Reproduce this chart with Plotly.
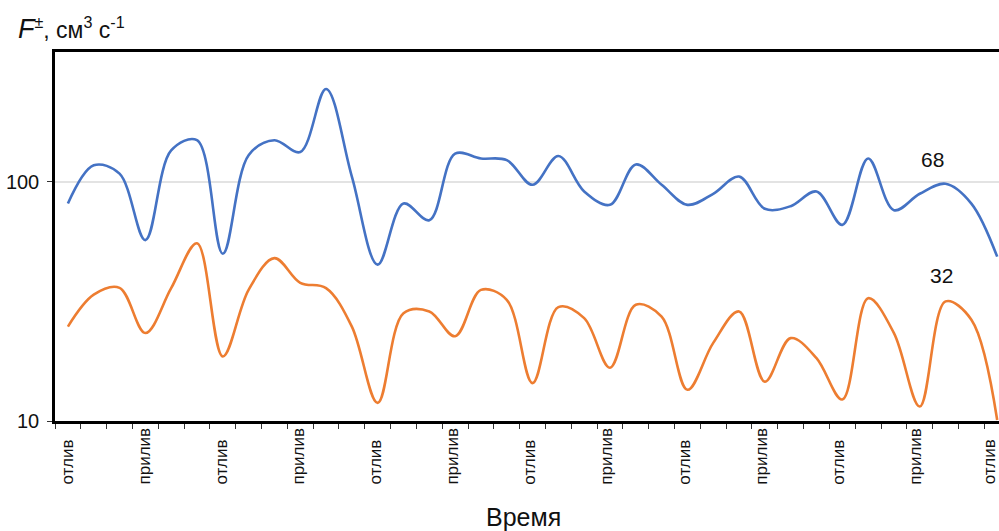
import plotly.graph_objects as go

# Flux through the section over successive tidal phases (log scale)
flux_plus = [81, 117, 108, 57, 135, 149, 50, 129, 149, 133, 244, 105, 45, 81, 69,
             131, 125, 123, 97, 128, 91, 80, 118, 97, 80, 89, 105, 77, 79, 91,
             66, 125, 76, 89, 98, 81, 48.6]
flux_minus = [24.8, 33.7, 36.0, 23.3, 35.9, 55.3, 18.6, 35.3, 47.9, 37.8, 35.9, 24.8,
              11.9, 28.2, 28.7, 22.6, 35.3, 32.1, 14.4, 29.9, 26.9, 16.7, 30.6, 27.3,
              13.5, 21.2, 28.7, 14.6, 22.2, 18.3, 12.3, 32.6, 23.3, 11.5, 31.6, 26.5, 10.1]
tide_labels = ["отлив", "прилив", "отлив", "прилив", "отлив", "прилив", "отлив",
               "прилив", "отлив", "прилив", "отлив", "прилив", "отлив"]
label_step = 3
series_notes = ["68", "32"]

n = len(flux_plus)
idx = list(range(n))

FONT = "Liberation Sans, Arial, sans-serif"
BLUE = "#4472C4"
ORANGE = "#ED7D31"

fig = go.Figure()
fig.add_trace(go.Scatter(x=idx, y=flux_plus, mode="lines",
                         line=dict(color=BLUE, width=2.6, shape="spline", smoothing=1.0),
                         showlegend=False, hoverinfo="skip"))
fig.add_trace(go.Scatter(x=idx, y=flux_minus, mode="lines",
                         line=dict(color=ORANGE, width=2.6, shape="spline", smoothing=1.0),
                         showlegend=False, hoverinfo="skip"))

annotations = []
# tide phase labels, rotated and bottom-aligned under every third point
last = len(tide_labels) - 1
for k, lab in enumerate(tide_labels):
    shift = -0.5 - 5.0 * k / last
    if k == last:
        shift = -8  # keep the final label inside the page
    annotations.append(dict(x=k * label_step, xref="x", y=-0.175, yref="paper",
                            text=lab, textangle=-90, showarrow=False,
                            xanchor="center", yanchor="bottom", borderpad=0,
                            xshift=shift,
                            font=dict(family=FONT, size=17, color="#111")))

# series notes near the right end
annotations.append(dict(x=33.5, xref="x", y=2.094, yref="y", text=series_notes[0],
                        showarrow=False, xanchor="center", yanchor="middle",
                        font=dict(family=FONT, size=21, color="#111")))
annotations.append(dict(x=33.85, xref="x", y=1.606, yref="y", text=series_notes[1],
                        showarrow=False, xanchor="center", yanchor="middle",
                        font=dict(family=FONT, size=21, color="#111")))

# axis titles
annotations.append(dict(x=-39 / 944, xref="paper", y=1.015, yref="paper",
                        text="<span style='font-size:27px'><i>F</i></span><sup>±</sup>, см<sup>3</sup> с<sup>-1</sup>",
                        showarrow=False, xanchor="left", yanchor="bottom",
                        font=dict(family=FONT, size=23, color="#111")))
annotations.append(dict(x=0.496, xref="paper", y=-0.26, yref="paper",
                        text="Время", showarrow=False, xanchor="center", yanchor="middle",
                        font=dict(family=FONT, size=25, color="#111")))

fig.update_layout(
    width=999, height=531,
    margin=dict(l=55, r=0, t=52, b=110),
    paper_bgcolor="white", plot_bgcolor="white",
    annotations=annotations,
    xaxis=dict(range=[-0.5, 36.07], showgrid=False, zeroline=False,
               showline=True, linecolor="black", linewidth=2.5, mirror=True,
               tickmode="array", tickvals=[k - 0.5 for k in range(n)],
               ticktext=["" for _ in range(n)],
               ticks="outside", ticklen=5, tickwidth=1, tickcolor="#333"),
    yaxis=dict(type="log", range=[1, 2.5417], showline=True, linecolor="black",
               linewidth=2.5, showgrid=True, gridcolor="#e3e3e3", gridwidth=1.5,
               zeroline=False, tickmode="array", tickvals=[10, 100],
               ticktext=["10", "100"], ticks="outside", ticklen=5, tickwidth=1,
               tickcolor="#333", ticklabelstandoff=4,
               tickfont=dict(family=FONT, size=20, color="#111")),
)

fig.write_html("out.html")
